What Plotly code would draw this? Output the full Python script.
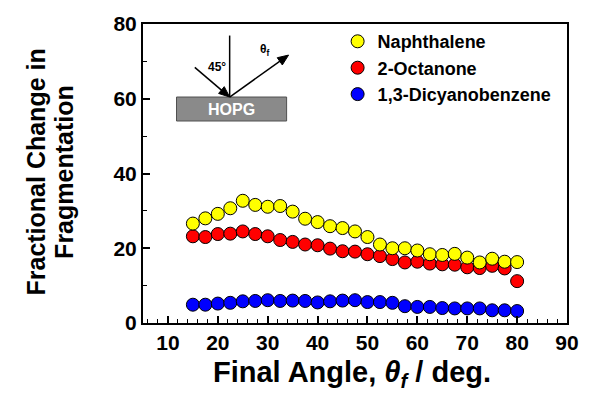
import math
import plotly.graph_objects as go

angle = [15, 17.5, 20, 22.5, 25, 27.5, 30, 32.5, 35, 37.5, 40, 42.5, 45, 47.5,
         50, 52.5, 55, 57.5, 60, 62.5, 65, 67.5, 70, 72.5, 75, 77.5, 80]

naphthalene = [26.6, 28.0, 29.2, 30.7, 32.7, 31.6, 31.1, 31.3, 29.8, 27.9, 27.0, 25.9, 25.4, 24.5,
               23.0, 21.0, 20.0, 20.0, 19.4, 18.4, 18.2, 18.5, 17.5, 16.2, 17.2, 16.4, 16.3]
octanone = [23.2, 23.0, 23.8, 23.9, 24.5, 23.8, 23.2, 22.2, 21.7, 21.0, 20.8, 19.9, 19.2, 19.1,
            18.4, 17.9, 17.1, 16.2, 16.4, 15.9, 15.7, 15.6, 14.9, 14.7, 15.3, 14.6, 11.2]
dicyanobenzene = [4.9, 4.9, 5.2, 5.4, 5.8, 5.9, 6.1, 5.9, 6.0, 5.9, 5.5, 5.8, 6.0, 6.1,
                  5.6, 5.6, 5.4, 4.5, 4.3, 4.3, 4.0, 3.9, 3.9, 3.9, 3.4, 3.4, 3.2]

x_ticks = [10, 20, 30, 40, 50, 60, 70, 80, 90]
y_ticks = [0, 20, 40, 60, 80]

FONT = "Liberation Sans, Arial, sans-serif"
W, H = 591, 394
ML, MR, MT, MB = 143, 14, 20, 71
PW, PH = W - ML - MR, H - MT - MB


def px(xp):
    return (xp - ML) / PW


def py(yp):
    return (H - MB - yp) / PH


fig = go.Figure()
series = [
    ("1,3-Dicyanobenzene", dicyanobenzene, "#0000FF"),
    ("2-Octanone", octanone, "#FF0000"),
    ("Naphthalene", naphthalene, "#FFFF00"),
]
for name, vals, col in series:
    fig.add_trace(go.Scatter(
        x=angle, y=vals, mode="markers", name=name,
        marker=dict(size=13, color=col, line=dict(color="black", width=1)),
    ))

axis_common = dict(
    showline=True, linecolor="black", linewidth=2, mirror=True,
    showgrid=False, zeroline=False,
    ticks="inside", ticklen=7, tickwidth=1.5, tickcolor="black",
    tickfont=dict(family=FONT, size=21, color="black", weight="bold"),
)
fig.update_xaxes(range=[5, 90], tickvals=x_ticks,
                 minor=dict(dtick=2, tick0=0, ticks="inside", ticklen=4, tickcolor="black", tickwidth=1.2),
                 **axis_common)
fig.update_yaxes(range=[0, 80], tickvals=y_ticks,
                 minor=dict(dtick=10, tick0=0, ticks="inside", ticklen=4, tickcolor="black", tickwidth=1.2),
                 **axis_common)

fig.update_layout(
    width=W, height=H,
    margin=dict(l=ML, r=MR, t=MT, b=MB),
    plot_bgcolor="white", paper_bgcolor="white",
    showlegend=True,
    legend=dict(x=0.459, y=1.003, xanchor="left", yanchor="top",
                traceorder="reversed", bgcolor="rgba(0,0,0,0)",
                font=dict(family=FONT, size=18, color="black", weight="bold"),
                itemsizing="trace"),
)

annotations = [
    dict(text="<b>Fractional Change in</b>", x=-0.2535, y=0.505, xref="paper", yref="paper",
         textangle=-90, showarrow=False, xanchor="center", yanchor="middle",
         font=dict(family=FONT, size=25, color="black")),
    dict(text="<b>Fragmentation</b>", x=-0.1866, y=0.505, xref="paper", yref="paper",
         textangle=-90, showarrow=False, xanchor="center", yanchor="middle",
         font=dict(family=FONT, size=25, color="black")),
    dict(text="<b>Final Angle, <i>θ</i><sub><i>f</i></sub> / deg.</b>", x=px(357), y=py(375),
         xref="paper", yref="paper", showarrow=False, xanchor="center", yanchor="middle",
         font=dict(family=FONT, size=29, color="black")),
    # inset labels
    dict(text="<b>HOPG</b>", x=px(233.5), y=py(106.5), xref="paper", yref="paper", showarrow=False,
         xanchor="center", yanchor="middle", font=dict(family=FONT, size=16, color="white")),
    dict(text="<b>45°</b>", x=px(218.3), y=py(64), xref="paper", yref="paper", showarrow=False,
         xanchor="center", yanchor="middle", font=dict(family=FONT, size=12, color="black")),
    dict(text="<b>θ<sub>f</sub></b>", x=px(268.3), y=py(46.7), xref="paper", yref="paper", showarrow=False,
         xanchor="center", yanchor="middle", font=dict(family=FONT, size=12, color="black")),
]
fig.update_layout(annotations=annotations)

# inset: surface block
fig.add_shape(type="rect", xref="paper", yref="paper", x0=px(177.3), x1=px(290), y0=py(118.3), y1=py(94),
              fillcolor="#8a8a8a", line=dict(color="#505050", width=1), layer="above")
# surface normal
fig.add_shape(type="line", xref="paper", yref="paper", x0=px(231.7), x1=px(231.7), y0=py(94), y1=py(31.7),
              line=dict(color="black", width=1.5))


def arrow(x0, y0, x1, y1, head_len=11, head_half=4.5):
    dx, dy = x1 - x0, y1 - y0
    L = math.hypot(dx, dy)
    ux, uy = dx / L, dy / L
    bx, by = x1 - ux * head_len, y1 - uy * head_len
    nx, ny = -uy, ux
    fig.add_shape(type="line", xref="paper", yref="paper",
                  x0=px(x0), y0=py(y0), x1=px(bx + ux * 2), y1=py(by + uy * 2),
                  line=dict(color="black", width=1.5))
    pts = [(x1, y1), (bx + nx * head_half, by + ny * head_half), (bx - nx * head_half, by - ny * head_half)]
    path = "M {} {} L {} {} L {} {} Z".format(*[v for p in pts for v in (px(p[0]), py(p[1]))])
    fig.add_shape(type="path", xref="paper", yref="paper", path=path,
                  fillcolor="black", line=dict(color="black", width=1))


arrow(196, 64, 231.7, 94)
arrow(231.7, 94, 292, 51.5)

fig.write_html("out.html")
